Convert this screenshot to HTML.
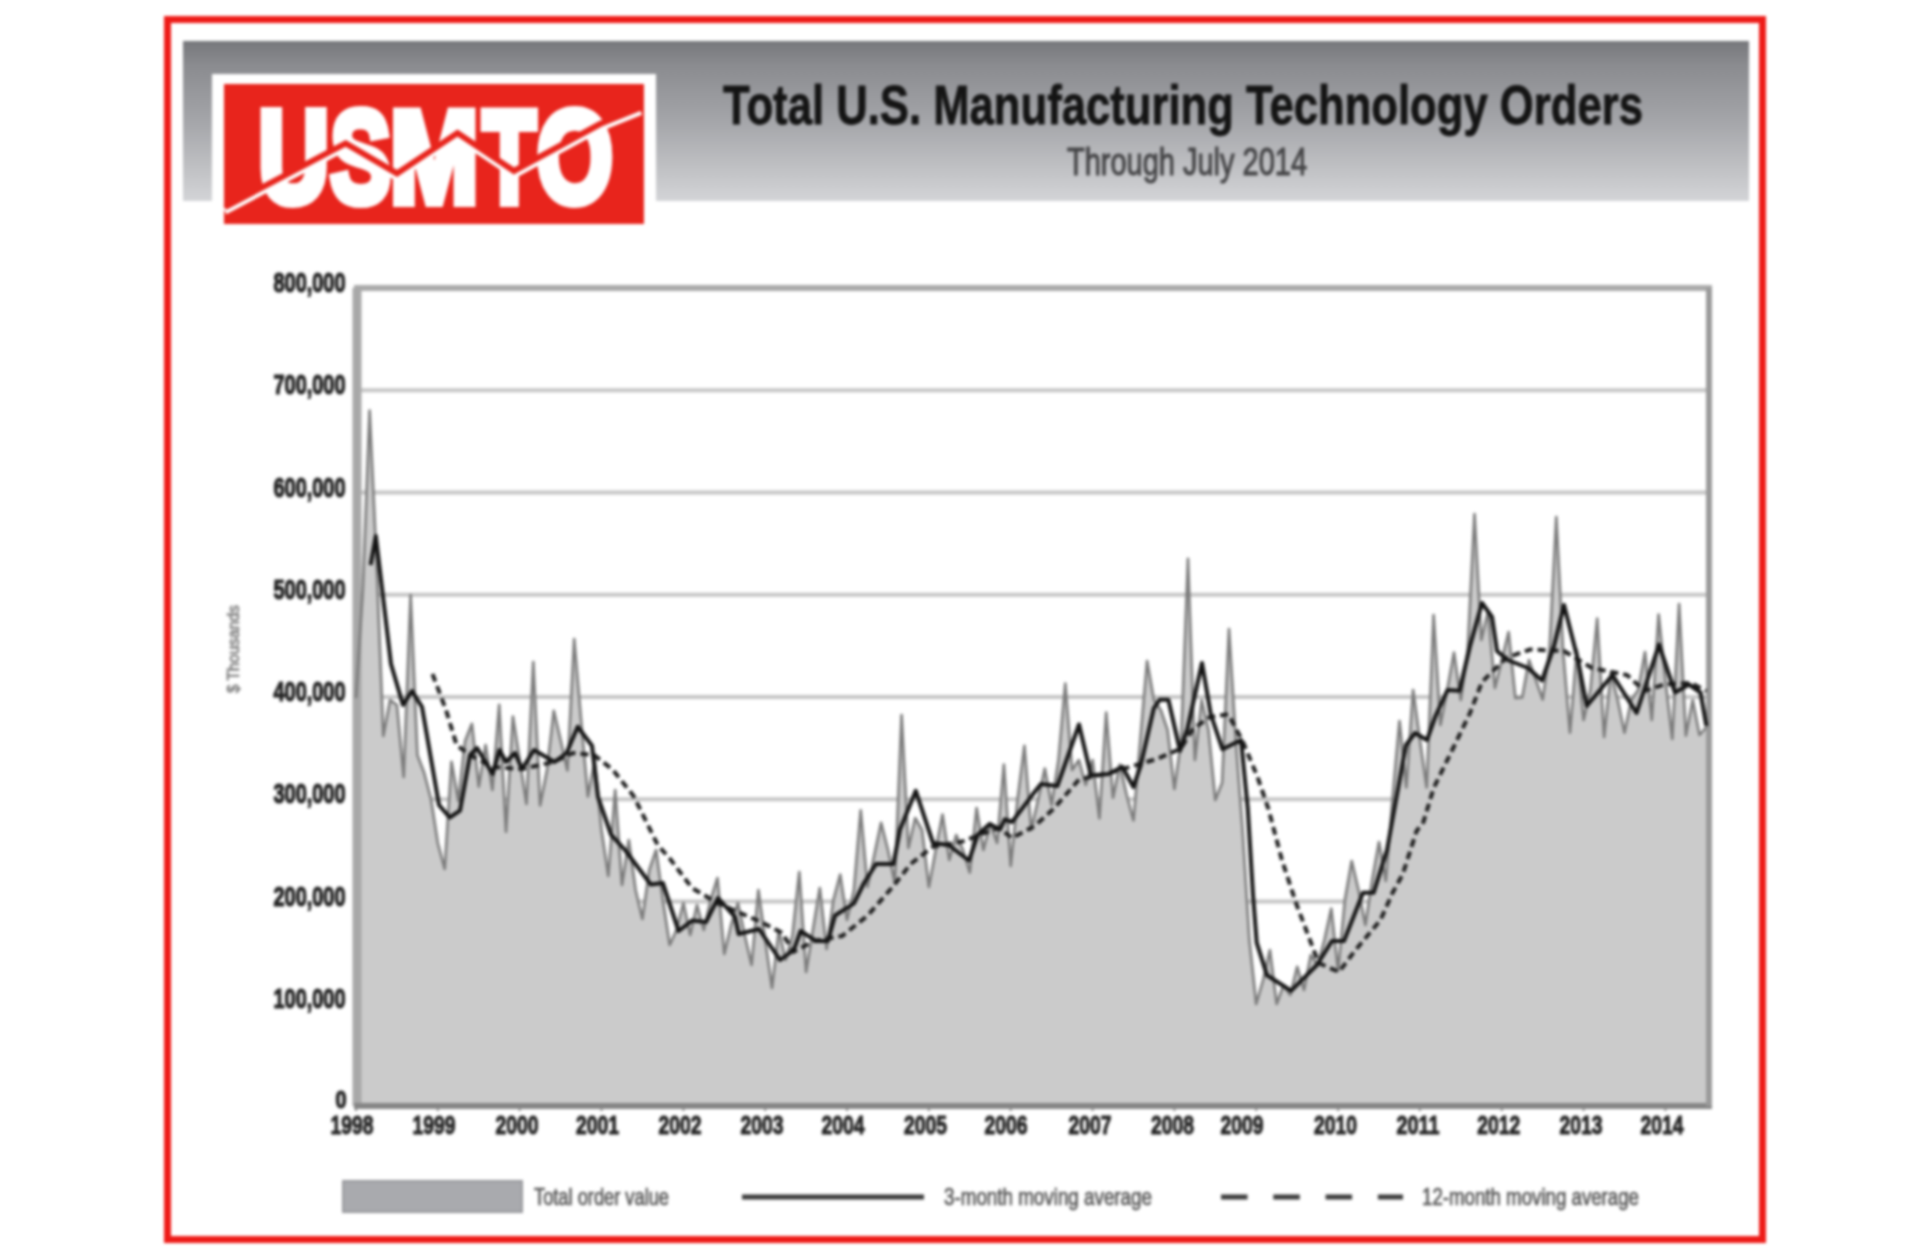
<!DOCTYPE html>
<html><head><meta charset="utf-8"><style>
html,body{margin:0;padding:0;background:#fff;}
body{width:1920px;height:1253px;position:relative;overflow:hidden;font-family:"Liberation Sans",sans-serif;}
.abs{position:absolute;}

#wrap{position:absolute;left:0;top:0;width:1920px;height:1253px;filter:blur(1.8px);}
</style></head><body><div id="wrap">
<div class="abs" style="left:164px;top:16px;width:1588px;height:1213px;border:7px solid #ee1b18;"></div>
<div class="abs" style="left:183px;top:41px;width:1566px;height:160px;background:linear-gradient(#76777b 0%,#8a8b8f 15%,#a4a5a9 50%,#c0c1c4 80%,#d3d4d7 100%);"></div>
<div class="abs" style="left:212px;top:74px;width:444px;height:160px;background:#fff;"></div>
<div class="abs" style="left:224px;top:84px;width:420px;height:140px;background:#e8241c;"></div>
<svg class="abs" style="left:0;top:0;" width="1920" height="1253" viewBox="0 0 1920 1253">
 <g id="logo">
  <g fill="#fff" stroke="#fff" stroke-width="10" stroke-linejoin="miter" font-family="Liberation Sans" font-weight="bold" font-size="130">
   <text x="258.4" y="202" textLength="70.4" lengthAdjust="spacingAndGlyphs">U</text>
   <text x="330.5" y="202" textLength="60.2" lengthAdjust="spacingAndGlyphs">S</text>
   <text x="390.1" y="202" textLength="88.4" lengthAdjust="spacingAndGlyphs">M</text>
   <text x="483" y="202" textLength="52.7" lengthAdjust="spacingAndGlyphs">T</text>
   <text x="537" y="202" textLength="75.6" lengthAdjust="spacingAndGlyphs">O</text>
  </g>
  <polyline class="zz" points="225,211.5 345.7,147.9 397,177.9 457.5,137.5 514,175.5 600,128.5 641,112" fill="none" stroke="#fff" stroke-width="6"/>
  <polyline class="zz" points="225,207 345.7,143.4 397,173.4 457.5,133 514,171 600,124 641,107.5" fill="none" stroke="#e8241c" stroke-width="6"/>
 </g>
 <text x="723" y="124" font-size="55" font-weight="bold" fill="#141414" stroke="#141414" stroke-width="0.8" textLength="920" lengthAdjust="spacingAndGlyphs">Total U.S. Manufacturing Technology Orders</text>
 <text x="1067" y="175" font-size="39" fill="#444446" stroke="#444446" stroke-width="1" textLength="240" lengthAdjust="spacingAndGlyphs">Through July 2014</text>
 <g stroke="#c6c6c6" stroke-width="4"><line x1="357" y1="1003.8" x2="1709" y2="1003.8" /><line x1="357" y1="901.5" x2="1709" y2="901.5" /><line x1="357" y1="799.2" x2="1709" y2="799.2" /><line x1="357" y1="697.0" x2="1709" y2="697.0" /><line x1="357" y1="594.8" x2="1709" y2="594.8" /><line x1="357" y1="492.5" x2="1709" y2="492.5" /><line x1="357" y1="390.2" x2="1709" y2="390.2" /></g>
 <path d="M356.0,1106.0 L356.0,698.0 L362.8,590.0 L369.6,410.5 L376.5,560.0 L383.3,736.0 L390.1,700.0 L396.9,705.0 L403.7,777.0 L410.6,595.0 L417.4,755.0 L424.2,773.0 L431.0,799.0 L437.8,843.0 L444.7,869.0 L451.5,761.8 L458.3,801.0 L465.1,741.0 L471.9,723.8 L478.8,786.6 L485.6,745.0 L492.4,790.0 L499.2,704.8 L506.0,831.8 L512.9,716.5 L519.7,760.0 L526.5,804.0 L533.3,662.0 L540.1,805.5 L547.0,770.0 L553.8,710.7 L560.6,740.0 L567.4,770.5 L574.2,639.0 L581.1,720.0 L587.9,796.5 L594.7,760.0 L601.5,830.0 L608.3,876.0 L615.2,790.0 L622.0,885.0 L628.8,840.0 L635.6,890.0 L642.4,919.0 L649.3,870.0 L656.1,850.0 L662.9,900.0 L669.7,945.0 L676.5,930.0 L683.4,903.0 L690.2,935.0 L697.0,905.0 L703.8,930.0 L710.6,900.0 L717.5,878.0 L724.3,954.0 L731.1,925.0 L737.9,903.0 L744.7,935.0 L751.6,965.0 L758.4,890.0 L765.2,940.0 L772.0,988.0 L778.8,930.0 L785.7,960.0 L792.5,935.0 L799.3,872.0 L806.1,972.0 L812.9,930.0 L819.8,888.0 L826.6,949.0 L833.4,900.0 L840.2,874.6 L847.0,920.0 L853.9,890.0 L860.7,810.3 L867.5,887.0 L874.3,855.0 L881.1,822.8 L888.0,850.0 L894.8,883.0 L901.6,715.0 L908.4,848.0 L915.2,818.0 L922.1,830.0 L928.9,887.0 L935.7,850.0 L942.5,814.5 L949.3,860.0 L956.2,835.0 L963.0,850.0 L969.8,872.6 L976.6,808.0 L983.4,850.0 L990.3,823.0 L997.1,843.0 L1003.9,764.5 L1010.7,866.0 L1017.5,800.0 L1024.4,745.8 L1031.2,830.0 L1038.0,800.0 L1044.8,768.6 L1051.6,805.0 L1058.5,760.0 L1065.3,683.6 L1072.1,770.0 L1078.9,760.0 L1085.7,785.0 L1092.6,760.0 L1099.4,818.4 L1106.2,712.6 L1113.0,797.7 L1119.8,764.5 L1126.7,795.0 L1133.5,820.5 L1140.3,740.0 L1147.1,661.0 L1153.9,700.0 L1160.8,710.0 L1167.6,730.0 L1174.4,789.0 L1181.2,740.0 L1188.0,558.7 L1194.9,760.0 L1201.7,700.0 L1208.5,730.0 L1215.3,800.0 L1222.1,782.7 L1229.0,629.0 L1235.8,740.0 L1242.6,830.0 L1249.4,940.0 L1256.2,1004.0 L1263.1,980.0 L1269.9,950.0 L1276.7,1004.0 L1283.5,985.0 L1290.3,995.0 L1297.2,966.7 L1304.0,990.0 L1310.8,955.0 L1317.6,965.0 L1324.4,940.0 L1331.3,908.6 L1338.1,971.0 L1344.9,900.0 L1351.7,861.0 L1358.5,890.0 L1365.4,925.0 L1372.2,880.0 L1379.0,842.0 L1385.8,881.0 L1392.6,798.0 L1399.5,721.0 L1406.3,787.5 L1413.1,690.0 L1419.9,740.0 L1426.7,787.5 L1433.6,615.0 L1440.4,725.0 L1447.2,690.0 L1454.0,652.6 L1460.8,700.0 L1467.7,650.0 L1474.5,514.0 L1481.3,640.0 L1488.1,611.0 L1494.9,688.0 L1501.8,660.0 L1508.6,632.0 L1515.4,698.0 L1522.2,697.5 L1529.0,660.0 L1535.9,680.0 L1542.7,699.5 L1549.5,650.0 L1556.3,517.0 L1563.1,651.0 L1570.0,732.7 L1576.8,650.0 L1583.6,720.0 L1590.4,690.0 L1597.2,618.6 L1604.1,737.0 L1610.9,672.6 L1617.7,700.0 L1624.5,732.7 L1631.3,700.0 L1638.2,690.0 L1645.0,652.0 L1651.8,720.0 L1658.6,614.5 L1665.4,680.0 L1672.3,739.0 L1679.1,604.0 L1685.9,735.6 L1692.7,700.0 L1699.5,735.0 L1706.4,727.0 L1706.4,1106.0 Z" fill="#cbcbcb"/>
 <rect x="357" y="288" width="1352" height="818" fill="none" stroke="#aaaaaa" stroke-width="6"/>
 <line x1="357" y1="288" x2="357" y2="1106" stroke="#a8a8a8" stroke-width="9"/>
 <line x1="354" y1="1106" x2="1712" y2="1106" stroke="#858585" stroke-width="6"/>
 <line x1="1709" y1="288" x2="1709" y2="1106" stroke="#9a9a9a" stroke-width="6"/>
 <g stroke="#858585" stroke-width="2"><line x1="356.0" y1="1106" x2="356.0" y2="1111"/><line x1="437.8" y1="1106" x2="437.8" y2="1111"/><line x1="519.7" y1="1106" x2="519.7" y2="1111"/><line x1="601.5" y1="1106" x2="601.5" y2="1111"/><line x1="683.4" y1="1106" x2="683.4" y2="1111"/><line x1="765.2" y1="1106" x2="765.2" y2="1111"/><line x1="847.0" y1="1106" x2="847.0" y2="1111"/><line x1="928.9" y1="1106" x2="928.9" y2="1111"/><line x1="1010.7" y1="1106" x2="1010.7" y2="1111"/><line x1="1092.6" y1="1106" x2="1092.6" y2="1111"/><line x1="1174.4" y1="1106" x2="1174.4" y2="1111"/><line x1="1256.2" y1="1106" x2="1256.2" y2="1111"/><line x1="1338.1" y1="1106" x2="1338.1" y2="1111"/><line x1="1419.9" y1="1106" x2="1419.9" y2="1111"/><line x1="1501.8" y1="1106" x2="1501.8" y2="1111"/><line x1="1583.6" y1="1106" x2="1583.6" y2="1111"/><line x1="1665.4" y1="1106" x2="1665.4" y2="1111"/></g>
 <path d="M356.0,698.0 L362.8,590.0 L369.6,410.5 L376.5,560.0 L383.3,736.0 L390.1,700.0 L396.9,705.0 L403.7,777.0 L410.6,595.0 L417.4,755.0 L424.2,773.0 L431.0,799.0 L437.8,843.0 L444.7,869.0 L451.5,761.8 L458.3,801.0 L465.1,741.0 L471.9,723.8 L478.8,786.6 L485.6,745.0 L492.4,790.0 L499.2,704.8 L506.0,831.8 L512.9,716.5 L519.7,760.0 L526.5,804.0 L533.3,662.0 L540.1,805.5 L547.0,770.0 L553.8,710.7 L560.6,740.0 L567.4,770.5 L574.2,639.0 L581.1,720.0 L587.9,796.5 L594.7,760.0 L601.5,830.0 L608.3,876.0 L615.2,790.0 L622.0,885.0 L628.8,840.0 L635.6,890.0 L642.4,919.0 L649.3,870.0 L656.1,850.0 L662.9,900.0 L669.7,945.0 L676.5,930.0 L683.4,903.0 L690.2,935.0 L697.0,905.0 L703.8,930.0 L710.6,900.0 L717.5,878.0 L724.3,954.0 L731.1,925.0 L737.9,903.0 L744.7,935.0 L751.6,965.0 L758.4,890.0 L765.2,940.0 L772.0,988.0 L778.8,930.0 L785.7,960.0 L792.5,935.0 L799.3,872.0 L806.1,972.0 L812.9,930.0 L819.8,888.0 L826.6,949.0 L833.4,900.0 L840.2,874.6 L847.0,920.0 L853.9,890.0 L860.7,810.3 L867.5,887.0 L874.3,855.0 L881.1,822.8 L888.0,850.0 L894.8,883.0 L901.6,715.0 L908.4,848.0 L915.2,818.0 L922.1,830.0 L928.9,887.0 L935.7,850.0 L942.5,814.5 L949.3,860.0 L956.2,835.0 L963.0,850.0 L969.8,872.6 L976.6,808.0 L983.4,850.0 L990.3,823.0 L997.1,843.0 L1003.9,764.5 L1010.7,866.0 L1017.5,800.0 L1024.4,745.8 L1031.2,830.0 L1038.0,800.0 L1044.8,768.6 L1051.6,805.0 L1058.5,760.0 L1065.3,683.6 L1072.1,770.0 L1078.9,760.0 L1085.7,785.0 L1092.6,760.0 L1099.4,818.4 L1106.2,712.6 L1113.0,797.7 L1119.8,764.5 L1126.7,795.0 L1133.5,820.5 L1140.3,740.0 L1147.1,661.0 L1153.9,700.0 L1160.8,710.0 L1167.6,730.0 L1174.4,789.0 L1181.2,740.0 L1188.0,558.7 L1194.9,760.0 L1201.7,700.0 L1208.5,730.0 L1215.3,800.0 L1222.1,782.7 L1229.0,629.0 L1235.8,740.0 L1242.6,830.0 L1249.4,940.0 L1256.2,1004.0 L1263.1,980.0 L1269.9,950.0 L1276.7,1004.0 L1283.5,985.0 L1290.3,995.0 L1297.2,966.7 L1304.0,990.0 L1310.8,955.0 L1317.6,965.0 L1324.4,940.0 L1331.3,908.6 L1338.1,971.0 L1344.9,900.0 L1351.7,861.0 L1358.5,890.0 L1365.4,925.0 L1372.2,880.0 L1379.0,842.0 L1385.8,881.0 L1392.6,798.0 L1399.5,721.0 L1406.3,787.5 L1413.1,690.0 L1419.9,740.0 L1426.7,787.5 L1433.6,615.0 L1440.4,725.0 L1447.2,690.0 L1454.0,652.6 L1460.8,700.0 L1467.7,650.0 L1474.5,514.0 L1481.3,640.0 L1488.1,611.0 L1494.9,688.0 L1501.8,660.0 L1508.6,632.0 L1515.4,698.0 L1522.2,697.5 L1529.0,660.0 L1535.9,680.0 L1542.7,699.5 L1549.5,650.0 L1556.3,517.0 L1563.1,651.0 L1570.0,732.7 L1576.8,650.0 L1583.6,720.0 L1590.4,690.0 L1597.2,618.6 L1604.1,737.0 L1610.9,672.6 L1617.7,700.0 L1624.5,732.7 L1631.3,700.0 L1638.2,690.0 L1645.0,652.0 L1651.8,720.0 L1658.6,614.5 L1665.4,680.0 L1672.3,739.0 L1679.1,604.0 L1685.9,735.6 L1692.7,700.0 L1699.5,735.0 L1706.4,727.0" fill="none" stroke="#7a7a7a" stroke-width="2.6" stroke-linejoin="round"/>
 <path d="M432.5,674.0 L446.0,710.0 L456.6,745.0 L470.0,755.0 L492.7,767.0 L522.0,769.0 L553.0,762.0 L573.0,753.0 L594.0,755.0 L613.0,770.0 L633.6,796.0 L657.7,845.0 L670.0,858.8 L692.0,888.0 L718.0,903.4 L761.0,922.0 L781.7,932.7 L793.8,951.6 L814.0,941.0 L842.0,936.0 L867.7,915.5 L893.4,886.0 L910.6,864.0 L933.0,846.7 L962.0,841.6 L984.5,833.0 L999.0,828.0 L1012.0,838.0 L1034.7,826.0 L1053.6,808.8 L1079.0,779.5 L1110.0,772.7 L1156.7,759.0 L1180.8,748.6 L1192.8,729.0 L1210.0,717.0 L1228.3,714.3 L1243.0,742.0 L1257.5,777.0 L1268.4,808.8 L1282.0,860.3 L1296.0,903.0 L1309.7,939.4 L1318.6,963.0 L1339.0,972.0 L1354.7,951.0 L1380.5,920.0 L1392.5,893.0 L1402.8,874.0 L1416.6,831.0 L1423.4,822.0 L1433.7,788.0 L1452.7,749.0 L1470.0,713.0 L1482.0,682.0 L1506.0,658.0 L1530.0,649.5 L1564.0,651.0 L1592.0,668.0 L1627.0,675.0 L1644.6,691.0 L1663.7,684.5 L1691.0,683.0 L1706.4,691.0" fill="none" stroke="#1e1e1e" stroke-width="4" stroke-dasharray="8 5"/>
 <path d="M370.6,565.0 L375.8,536.0 L391.0,664.0 L403.0,705.0 L412.0,691.0 L422.0,707.0 L439.0,805.0 L449.7,817.5 L460.0,810.6 L470.0,755.0 L477.0,748.0 L492.7,774.0 L499.5,750.0 L506.0,762.0 L515.0,753.0 L522.0,769.0 L534.0,750.0 L554.5,762.0 L566.6,753.0 L577.7,726.7 L592.0,745.7 L598.0,796.8 L611.0,834.7 L625.0,850.0 L650.8,884.5 L662.8,883.0 L678.6,931.0 L692.0,920.6 L706.0,922.0 L718.0,898.0 L735.0,917.0 L738.7,934.0 L759.0,929.0 L780.0,960.0 L793.8,950.0 L800.6,931.0 L816.0,941.0 L828.0,941.0 L835.0,915.5 L854.0,903.4 L864.0,883.0 L876.0,864.0 L893.4,864.0 L900.0,829.5 L915.8,790.8 L933.0,843.0 L948.4,845.0 L969.0,860.5 L977.7,834.7 L989.7,824.0 L1000.0,829.5 L1004.8,819.4 L1012.0,822.0 L1032.6,794.6 L1041.0,784.0 L1057.4,786.0 L1079.0,724.5 L1091.0,775.6 L1108.5,774.0 L1122.4,766.9 L1133.4,787.0 L1140.7,765.4 L1153.8,708.4 L1159.7,699.7 L1168.4,699.7 L1180.0,750.8 L1187.4,729.0 L1202.0,663.0 L1210.8,714.3 L1222.5,749.3 L1241.0,740.0 L1247.8,808.8 L1253.0,894.7 L1256.7,942.7 L1267.0,975.3 L1291.0,990.8 L1316.9,965.0 L1332.0,941.0 L1344.0,941.0 L1363.0,892.8 L1373.6,892.8 L1387.0,850.0 L1396.0,800.0 L1406.0,745.0 L1415.0,733.0 L1427.0,740.0 L1435.5,716.0 L1447.5,690.0 L1459.5,690.8 L1470.0,646.0 L1482.0,603.0 L1492.0,617.0 L1497.0,651.0 L1507.7,660.0 L1528.0,668.0 L1542.0,680.5 L1554.0,646.0 L1564.0,605.0 L1578.0,660.0 L1586.7,706.0 L1612.5,675.0 L1636.6,713.0 L1659.0,644.6 L1675.0,692.5 L1689.0,684.5 L1700.5,692.5 L1706.4,726.0" fill="none" stroke="#141414" stroke-width="4" stroke-linejoin="round"/>
 <g font-size="27" font-weight="bold" fill="#222" stroke="#222" stroke-width="1.2"><text x="335.5" y="1108.0" font-size="23" textLength="11" lengthAdjust="spacingAndGlyphs">0</text><text x="273.5" y="1007.8" textLength="72" lengthAdjust="spacingAndGlyphs">100,000</text><text x="273.5" y="905.5" textLength="72" lengthAdjust="spacingAndGlyphs">200,000</text><text x="273.5" y="803.2" textLength="72" lengthAdjust="spacingAndGlyphs">300,000</text><text x="273.5" y="701.0" textLength="72" lengthAdjust="spacingAndGlyphs">400,000</text><text x="273.5" y="598.8" textLength="72" lengthAdjust="spacingAndGlyphs">500,000</text><text x="273.5" y="496.5" textLength="72" lengthAdjust="spacingAndGlyphs">600,000</text><text x="273.5" y="394.2" textLength="72" lengthAdjust="spacingAndGlyphs">700,000</text><text x="273.5" y="292.0" textLength="72" lengthAdjust="spacingAndGlyphs">800,000</text></g>
 <g font-size="26" font-weight="bold" fill="#222" stroke="#222" stroke-width="1"><text x="330.5" y="1134" textLength="43" lengthAdjust="spacingAndGlyphs">1998</text><text x="412.5" y="1134" textLength="43" lengthAdjust="spacingAndGlyphs">1999</text><text x="495.5" y="1134" textLength="43" lengthAdjust="spacingAndGlyphs">2000</text><text x="576.0" y="1134" textLength="43" lengthAdjust="spacingAndGlyphs">2001</text><text x="658.5" y="1134" textLength="43" lengthAdjust="spacingAndGlyphs">2002</text><text x="740.5" y="1134" textLength="43" lengthAdjust="spacingAndGlyphs">2003</text><text x="821.5" y="1134" textLength="43" lengthAdjust="spacingAndGlyphs">2004</text><text x="904.1" y="1134" textLength="43" lengthAdjust="spacingAndGlyphs">2005</text><text x="984.5" y="1134" textLength="43" lengthAdjust="spacingAndGlyphs">2006</text><text x="1068.5" y="1134" textLength="43" lengthAdjust="spacingAndGlyphs">2007</text><text x="1151.0" y="1134" textLength="43" lengthAdjust="spacingAndGlyphs">2008</text><text x="1220.5" y="1134" textLength="43" lengthAdjust="spacingAndGlyphs">2009</text><text x="1314.1" y="1134" textLength="43" lengthAdjust="spacingAndGlyphs">2010</text><text x="1396.5" y="1134" textLength="43" lengthAdjust="spacingAndGlyphs">2011</text><text x="1477.2" y="1134" textLength="43" lengthAdjust="spacingAndGlyphs">2012</text><text x="1559.5" y="1134" textLength="43" lengthAdjust="spacingAndGlyphs">2013</text><text x="1640.5" y="1134" textLength="43" lengthAdjust="spacingAndGlyphs">2014</text></g>
 <text transform="translate(239,693) rotate(-90)" font-size="17" fill="#7a7a7a" stroke="#7a7a7a" stroke-width="0.6" textLength="88" lengthAdjust="spacingAndGlyphs">$ Thousands</text>
 <rect x="343" y="1181" width="179" height="31" fill="#a9aaae" stroke="#98999d" stroke-width="2"/>
 <text x="534" y="1205" font-size="24" fill="#585858" stroke="#585858" stroke-width="0.7" textLength="135" lengthAdjust="spacingAndGlyphs">Total order value</text>
 <line x1="742" y1="1197" x2="924" y2="1197" stroke="#3a3a3a" stroke-width="5"/>
 <text x="944" y="1205" font-size="24" fill="#585858" stroke="#585858" stroke-width="0.7" textLength="208" lengthAdjust="spacingAndGlyphs">3-month moving average</text>
 <line x1="1221" y1="1197" x2="1403" y2="1197" stroke="#3a3a3a" stroke-width="5" stroke-dasharray="26.5 25.8"/>
 <text x="1422" y="1205" font-size="24" fill="#585858" stroke="#585858" stroke-width="0.7" textLength="217" lengthAdjust="spacingAndGlyphs">12-month moving average</text>
</svg>
</div></body></html>
